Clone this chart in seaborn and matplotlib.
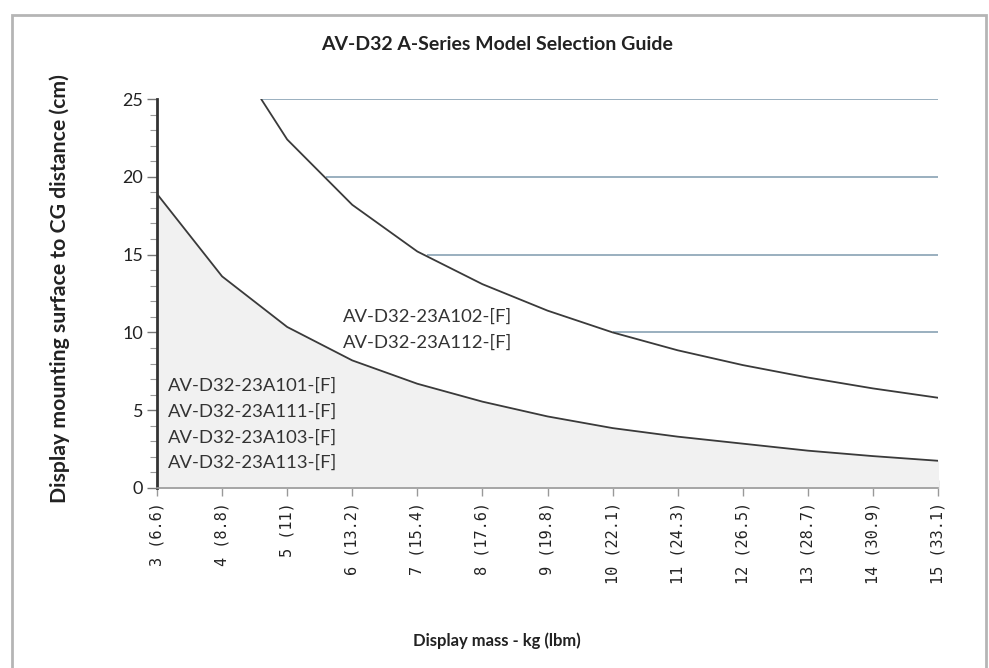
import matplotlib
matplotlib.use("Agg")
import matplotlib.pyplot as plt
import seaborn as sns
import pandas as pd
import numpy as np
from matplotlib.patches import Rectangle
from matplotlib.ticker import MultipleLocator

mass_kg = [3, 4, 5, 6, 7, 8, 9, 10, 11, 12, 13, 14, 15]
tick_labels = ["3 (6.6)", "4 (8.8)", "5 (11)", "6 (13.2)", "7 (15.4)", "8 (17.6)",
               "9 (19.8)", "10 (22.1)", "11 (24.3)", "12 (26.5)", "13 (28.7)",
               "14 (30.9)", "15 (33.1)"]
lower_cm = [18.9, 13.6, 10.35, 8.2, 6.7, 5.55, 4.6, 3.85, 3.3, 2.85, 2.4, 2.05, 1.75]
upper_mass = [4.6, 5, 6, 7, 8, 9, 10, 11, 12, 13, 14, 15]
upper_cm = [25.0, 22.4, 18.2, 15.2, 13.1, 11.4, 10.0, 8.85, 7.9, 7.1, 6.4, 5.8]
hline_y = [25, 20, 15, 10]
hline_start = [4.6, 5.6, 7.15, 10.0]
label_upper = ["AV-D32-23A102-[F]", "AV-D32-23A112-[F]"]
label_lower = ["AV-D32-23A101-[F]", "AV-D32-23A111-[F]", "AV-D32-23A103-[F]", "AV-D32-23A113-[F]"]

sns.set_theme(style="white")
plt.rcParams['font.family'] = ['Lato', 'DejaVu Sans']

fig = plt.figure(figsize=(9.89, 6.68), dpi=100)
ax = fig.add_axes([157/989, 1-488/668, (938-157)/989, (488-99)/668])

df_low = pd.DataFrame({"mass": mass_kg, "cm": lower_cm})
df_up = pd.DataFrame({"mass": upper_mass, "cm": upper_cm})

ax.fill_between(mass_kg, 0, lower_cm, color="#f1f1f1", zorder=1)
for y, x0 in zip(hline_y, hline_start):
    ax.hlines(y, x0, 15, color="#7f9aae", lw=1.1, zorder=2)
sns.lineplot(data=df_low, x="mass", y="cm", ax=ax, color="#3a3a3a", lw=1.3, zorder=3)
sns.lineplot(data=df_up, x="mass", y="cm", ax=ax, color="#3a3a3a", lw=1.3, zorder=3)

ax.set_xlim(3, 15)
ax.set_ylim(0, 25)
ax.set_xticks(mass_kg)
ax.set_xticklabels(tick_labels, rotation=90, family="DejaVu Sans Mono", fontsize=11, color="#222222")
ax.set_yticks([0, 5, 10, 15, 20, 25])
ax.yaxis.set_minor_locator(MultipleLocator(1))
ax.tick_params(axis="y", which="major", direction="out", length=7, width=1, color="#777777",
               labelsize=13, labelcolor="#222222", pad=3, left=True)
ax.tick_params(axis="y", which="minor", direction="out", length=5, width=0.8, color="#999999", left=True)
ax.tick_params(axis="x", which="major", direction="inout", length=12, width=1, color="#999999",
               pad=4, bottom=True)

for s in ["top", "right"]:
    ax.spines[s].set_visible(False)
ax.spines["left"].set_color("#333333")
ax.spines["left"].set_linewidth(2)
ax.spines["bottom"].set_color("#999999")
ax.spines["bottom"].set_linewidth(1.2)
ax.set_xlabel("")
ax.set_ylabel("")

for i, t in enumerate(label_upper):
    ax.text(5.85, 11.0 - i * 1.65, t, fontsize=13.3, color="#333333", va="center", ha="left", zorder=4)
for i, t in enumerate(label_lower):
    ax.text(3.17, 6.55 - i * 1.65, t, fontsize=13.3, color="#333333", va="center", ha="left", zorder=4)

fig.text(497/989, 1-45/668, "AV-D32 A-Series Model Selection Guide", ha="center", va="center",
         fontsize=14, fontweight="bold", color="#222222")
fig.text(497/989, 1-641/668, "Display mass - kg (lbm)", ha="center", va="center",
         fontsize=12, fontweight="bold", color="#222222")
fig.text(60/989, 1-289/668, "Display mounting surface to CG distance (cm)", ha="center", va="center",
         rotation=90, fontsize=15.3, fontweight="bold", color="#222222")

fig.patches.append(Rectangle((12/989, -0.05), (986-12)/989, 1.05 - 15/668, transform=fig.transFigure,
                             fill=False, edgecolor="#b5b5b5", lw=2))

fig.savefig("out.png", dpi=100)
